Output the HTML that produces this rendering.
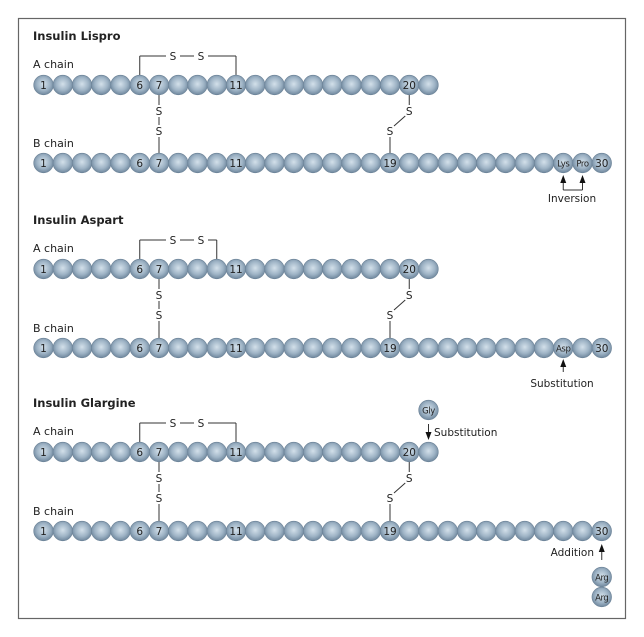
<!DOCTYPE html>
<html><head><meta charset="utf-8"><style>
html,body{margin:0;padding:0;background:#fff}
svg{display:block}
text{font-family:"DejaVu Sans","Liberation Sans",sans-serif;fill:#222}
</style></head><body>
<svg width="644" height="637" viewBox="0 0 644 637" xmlns="http://www.w3.org/2000/svg">
<defs>
<radialGradient id="g" cx="0.5" cy="0.45" r="0.55">
<stop offset="0" stop-color="#d3e0ea"/><stop offset="0.6" stop-color="#9fb4c6"/><stop offset="1" stop-color="#6f879d"/>
</radialGradient>
</defs>
<rect x="18.5" y="18.5" width="607" height="600" fill="#fff" stroke="#666" stroke-width="1.2"/>
<g id="content"></g>
</svg>
<script>
const S="http://www.w3.org/2000/svg",C=document.getElementById('content');
function el(t,a,txt){const e=document.createElementNS(S,t);for(const k in a)e.setAttribute(k,a[k]);if(txt!=null)e.textContent=txt;C.appendChild(e);return e;}
const X=i=>43.5+(i-1)*19.25;
function bead(x,y,l){el('circle',{cx:x,cy:y,r:9.8,fill:'url(#g)',stroke:'#6a8196','stroke-width':0.6});if(l)el('text',{x:x,y:y+(l.length>2?3.3:3.8),'text-anchor':'middle','font-size':l.length>2?8.5:10.5,'letter-spacing':l.length>2?-0.4:0},l);}
function line(a,b,c,d){el('line',{x1:a,y1:b,x2:c,y2:d,stroke:'#333','stroke-width':1});}
function sTxt(x,y){el('text',{x:x,y:y+4,'text-anchor':'middle','font-size':10.5},'S');}
function arrUp(x,y1,y2){line(x,y1,x,y2+7);el('path',{d:`M${x-3},${y2+8} L${x},${y2} L${x+3},${y2+8} Z`,fill:'#111'});}
function arrDown(x,y1,y2){line(x,y1,x,y2-7);el('path',{d:`M${x-3},${y2-8} L${x},${y2} L${x+3},${y2-8} Z`,fill:'#111'});}
function block(ty,ay,by,title,bend,blabels){
 el('text',{x:33,y:ty,'font-size':11.5,'font-weight':'bold'},title);
 el('text',{x:33,y:ay-17,'font-size':11},'A chain');
 el('text',{x:33,y:by-16,'font-size':11},'B chain');
 const top=ay-29;
 line(X(6),ay-10,X(6),top);line(X(6),top,X(bend),top);line(X(bend),top,X(bend),ay-10);
 el('rect',{x:166,y:top-6,width:14,height:12,fill:'#fff'});el('rect',{x:194,y:top-6,width:14,height:12,fill:'#fff'});
 sTxt(173,top);sTxt(201,top);
 line(X(7),ay+10,X(7),by-10);
 el('rect',{x:X(7)-5,y:ay+20,width:10,height:12,fill:'#fff'});el('rect',{x:X(7)-5,y:ay+40,width:10,height:12,fill:'#fff'});
 sTxt(X(7),ay+26);sTxt(X(7),ay+46);
 line(X(20),ay+10,X(20),ay+20);sTxt(X(20),ay+26);line(X(20)-4,ay+31,X(19)+4,ay+41);sTxt(X(19),ay+46);line(X(19),ay+52,X(19),by-10);
 const al={1:'1',6:'6',7:'7',11:'11',20:'20'};
 for(let i=1;i<=21;i++)bead(X(i),ay,al[i]);
 for(let i=1;i<=30;i++)bead(X(i),by,blabels[i]);
}
const bl={1:'1',6:'6',7:'7',11:'11',19:'19',30:'30'};
block(40,85,163,'Insulin Lispro',11,Object.assign({},bl,{28:'Lys',29:'Pro'}));
block(224,269,348,'Insulin Aspart',10,Object.assign({},bl,{28:'Asp'}));
block(407,452,531,'Insulin Glargine',11,bl);
line(X(28),190,X(29),190);
arrUp(X(28),190,175);arrUp(X(29),190,175);
el('text',{x:572,y:202,'text-anchor':'middle','font-size':10.5},'Inversion');
arrUp(X(28),372,359);
el('text',{x:562,y:387,'text-anchor':'middle','font-size':10.5},'Substitution');
bead(X(21),410,'Gly');
arrDown(X(21),424,440);
el('text',{x:434,y:436,'font-size':10.5},'Substitution');
arrUp(X(30),560,544);
el('text',{x:594,y:556,'text-anchor':'end','font-size':10.5},'Addition');
bead(X(30),577,'Arg');bead(X(30),597,'Arg');
</script>
</body></html>
